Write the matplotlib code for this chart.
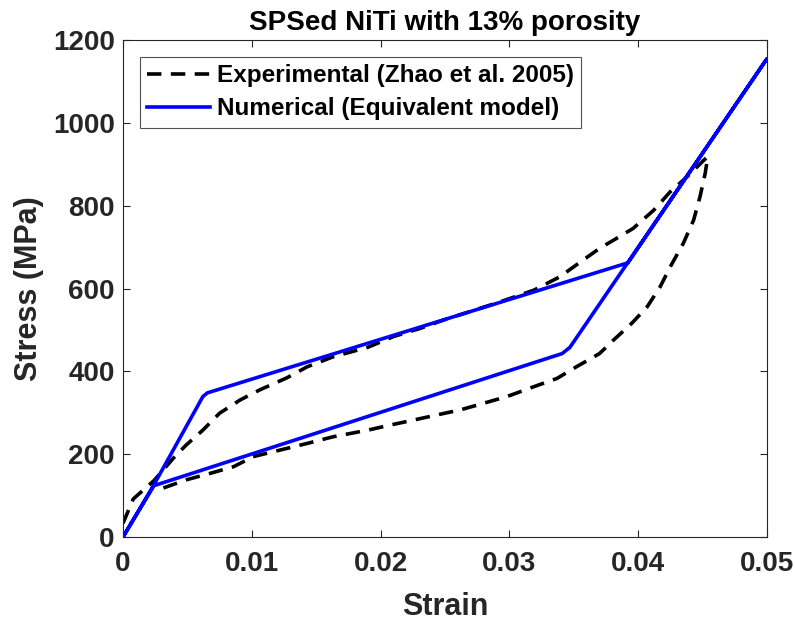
import matplotlib
matplotlib.use("Agg")
import matplotlib.pyplot as plt

plt.rcParams['font.family'] = ['Liberation Sans', 'DejaVu Sans']
plt.rcParams['font.weight'] = 'bold'

# Experimental curve (Zhao et al. 2005): loading then unloading
exp_strain = [0.0, 0.0008, 0.0024, 0.0039, 0.0049, 0.0062, 0.0075, 0.0091, 0.0106,
              0.0127, 0.0143, 0.0163, 0.0190, 0.0210, 0.0231, 0.0249, 0.0269, 0.0293,
              0.0319, 0.0339, 0.0352, 0.0370, 0.0381, 0.0396, 0.0412, 0.0425, 0.0438,
              0.0451, 0.0454, 0.0452, 0.0448, 0.0443, 0.0435, 0.0425, 0.0417, 0.0407,
              0.0395, 0.0381, 0.0370, 0.0352, 0.0337, 0.0319, 0.0298, 0.0280, 0.0262,
              0.0244, 0.0225, 0.0207, 0.0190, 0.0163, 0.0143, 0.0122, 0.0101, 0.0086,
              0.0068, 0.0049, 0.0031, 0.0025]
exp_stress = [33, 92, 136, 190, 222, 258, 299, 331, 355,
              384, 411, 435, 458, 484, 504, 524, 544, 568,
              596, 628, 657, 697, 717, 745, 789, 834, 870,
              910, 918, 878, 822, 765, 709, 653, 604, 556,
              516, 476, 443, 411, 383, 363, 339, 323, 307,
              295, 282, 270, 258, 242, 226, 210, 194, 170,
              154, 138, 118, 107]

# Numerical curve (equivalent model)
num_strain = [0.0, 0.0024, 0.0062, 0.00655, 0.0392, 0.0500, 0.0347, 0.0341, 0.0024, 0.0]
num_stress = [0, 126, 339, 348, 662, 1155, 458, 443, 124, 0]

fig, ax = plt.subplots(figsize=(7.95, 6.23), dpi=100)
fig.subplots_adjust(left=0.1547, right=0.9648, bottom=0.138, top=0.9358)

ax.plot(exp_strain, exp_stress, color='black', linestyle='--', dashes=(4, 2.6),
        linewidth=2.6, label='Experimental (Zhao et al. 2005)')
ax.plot(num_strain, num_stress, color='blue', linewidth=2.6,
        label='Numerical (Equivalent model)')

ax.set_xlim(0, 0.05)
ax.set_ylim(0, 1200)
ax.set_xticks([0, 0.01, 0.02, 0.03, 0.04, 0.05])
ax.set_xticklabels(['0', '0.01', '0.02', '0.03', '0.04', '0.05'])
ax.set_yticks([0, 200, 400, 600, 800, 1000, 1200])

ax.tick_params(direction='in', length=5, width=0.8, labelsize=20, colors='#262626',
               top=True, right=True)
ax.tick_params(axis='x', pad=10)
ax.tick_params(axis='y', pad=6)
for s in ax.spines.values():
    s.set_color('#262626')
    s.set_linewidth(0.8)

ax.set_xlabel('Strain', fontsize=22, fontweight='bold', color='#262626', labelpad=11)
ax.set_ylabel('Stress (MPa)', fontsize=22, fontweight='bold', color='#262626', labelpad=6)
ax.set_title('SPSed NiTi with 13% porosity', fontsize=20, fontweight='bold', pad=7)

leg = ax.legend(loc='upper left', fontsize=17.5, frameon=True, fancybox=False,
                edgecolor='#262626', handlelength=2.6, handletextpad=0.25,
                borderpad=0.3, labelspacing=0.42, borderaxespad=0,
                bbox_to_anchor=(0.0264, 0.966))
leg.get_frame().set_linewidth(0.8)
for t in leg.get_texts():
    t.set_fontweight('bold')

fig.savefig('out.png', dpi=100)
